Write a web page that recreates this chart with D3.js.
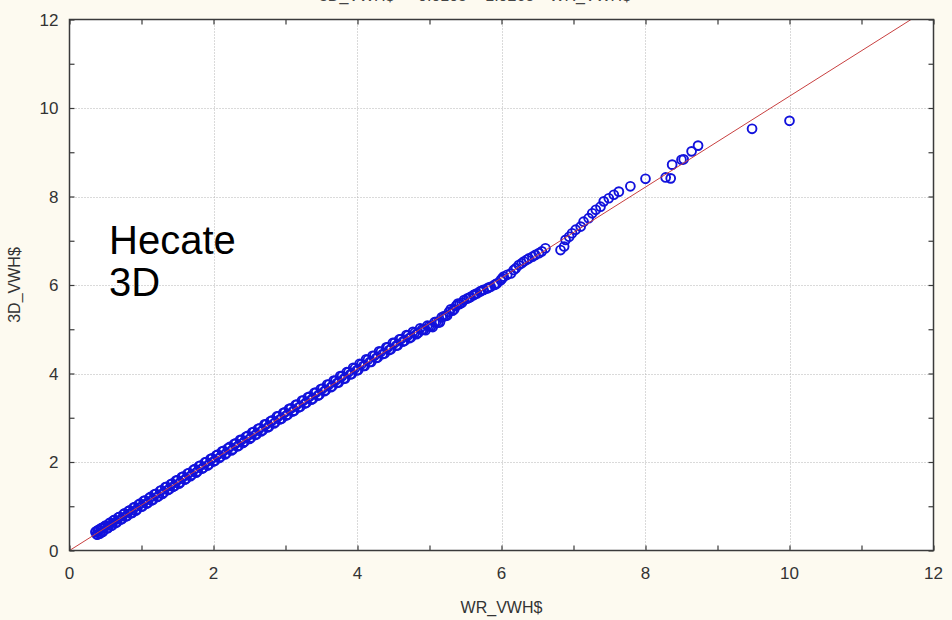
<!DOCTYPE html>
<html>
<head>
<meta charset="utf-8">
<script src="https://cdn.jsdelivr.net/npm/d3@7"></script>
<style>
  body { margin: 0; background: #fdfaf0; }
  svg { display: block; }
  text { font-family: "Liberation Sans", Arial, sans-serif; }
</style>
</head>
<body>
<div id="chart"></div>
<script>
const width = 952;
const height = 620;
const margin = { top: 19.5, right: 18.5, bottom: 69.5, left: 69.5 };

// tick values for both axes
const majorTicks = [0, 2, 4, 6, 8, 10, 12];
const minorTicks = [1, 3, 5, 7, 9, 11];

// WR_VWH$ (x) against 3D_VWH$ (y)
const wrVWH = [
  0.36, 0.38, 0.40, 0.42, 0.44, 0.46, 0.49, 0.52, 0.55, 0.58, 0.61, 0.64, 0.68, 0.71, 0.75, 0.78,
  0.82, 0.85, 0.89, 0.92, 0.96, 1.00, 1.03, 1.07, 1.11, 1.14, 1.18, 1.22, 1.26, 1.29, 1.33, 1.37,
  1.41, 1.44, 1.48, 1.52, 1.56, 1.60, 1.64, 1.68, 1.72, 1.76, 1.80, 1.84, 1.88, 1.92, 1.96, 2.00,
  2.04, 2.08, 2.12, 2.16, 2.20, 2.25, 2.29, 2.33, 2.37, 2.41, 2.45, 2.50, 2.54, 2.58, 2.62, 2.66,
  2.71, 2.75, 2.79, 2.84, 2.88, 2.92, 2.97, 3.01, 3.05, 3.10, 3.14, 3.18, 3.23, 3.27, 3.31, 3.36,
  3.40, 3.45, 3.49, 3.54, 3.58, 3.63, 3.67, 3.72, 3.76, 3.81, 3.85, 3.90, 3.94, 3.99, 4.03, 4.08,
  4.12, 4.17, 4.21, 4.26, 4.30, 4.35, 4.40, 4.44, 4.49, 4.54, 4.58, 4.63, 4.68, 4.72, 4.77, 4.82,
  4.87, 4.92, 4.97, 5.02, 5.07, 5.12, 5.17, 5.22, 5.27, 5.32, 5.37, 5.42, 5.48, 5.52, 5.57, 5.61,
  5.66, 5.70, 5.75, 5.80, 5.85, 5.90, 5.94, 5.99, 6.03, 6.13, 6.17, 6.24, 6.31, 6.38, 6.47, 6.52,
  6.61, 6.82, 6.87, 6.89, 6.94, 6.98, 7.03, 7.10, 7.14, 7.21, 7.26, 7.31, 7.375, 7.42, 7.49, 7.56,
  7.63, 7.79, 8.00, 8.28, 8.35, 8.37, 8.50, 8.53, 8.64, 8.73, 9.48, 10.00,
  0.37, 0.39, 0.41, 0.43, 0.45, 0.47, 0.50, 0.535, 0.565, 0.595, 0.625, 0.66, 0.695, 0.73, 0.765, 0.80,
  0.835, 0.87, 0.905, 0.94, 0.98, 1.015, 1.05, 1.09, 1.125, 1.16, 1.20, 1.24, 1.275, 1.31, 1.35, 1.39,
  1.425, 1.46, 1.50, 1.54, 1.58, 1.62, 1.66, 1.70, 1.74, 1.78, 1.82, 1.86, 1.90, 1.94, 1.98, 2.02,
  2.06, 2.10, 2.14, 2.18, 2.225, 2.27, 2.31, 2.35, 2.39, 2.43, 2.475, 2.52, 2.56, 2.60, 2.64, 2.685,
  2.73, 2.77, 2.815, 2.86, 2.90, 2.945, 2.99, 3.03, 3.075, 3.12, 3.16, 3.205, 3.25, 3.29, 3.335, 3.38,
  3.425, 3.47, 3.515, 3.56, 3.605, 3.65, 3.695, 3.74, 3.785, 3.83, 3.875, 3.92, 3.965, 4.01, 4.055, 4.10,
  4.145, 4.19, 4.235, 4.28, 4.325, 4.375, 4.42, 4.465, 4.515, 4.56, 4.605, 4.655, 4.70, 4.745, 4.795, 4.845,
  4.895, 4.945, 4.995, 5.045, 5.095, 5.145, 5.195, 5.245, 5.295, 5.345, 5.395, 5.45,
  5.55, 5.63, 5.72, 5.82, 5.92, 6.01, 6.08, 6.20, 6.28, 6.35, 6.43, 6.56
];
const d3VWH = [
  0.42, 0.36, 0.46, 0.38, 0.50, 0.42, 0.55, 0.50, 0.61, 0.56, 0.68, 0.62, 0.75, 0.70, 0.82, 0.77,
  0.89, 0.84, 0.97, 0.90, 1.04, 0.99, 1.12, 1.06, 1.19, 1.13, 1.27, 1.21, 1.35, 1.28, 1.43, 1.37,
  1.50, 1.44, 1.58, 1.51, 1.66, 1.60, 1.74, 1.68, 1.82, 1.76, 1.91, 1.85, 1.99, 1.92, 2.07, 2.01,
  2.15, 2.09, 2.24, 2.17, 2.31, 2.26, 2.41, 2.35, 2.50, 2.43, 2.57, 2.52, 2.67, 2.61, 2.75, 2.69,
  2.85, 2.78, 2.92, 2.87, 3.03, 2.96, 3.11, 3.05, 3.20, 3.14, 3.29, 3.23, 3.39, 3.32, 3.46, 3.41,
  3.56, 3.50, 3.65, 3.60, 3.75, 3.69, 3.84, 3.79, 3.94, 3.88, 4.03, 3.98, 4.13, 4.07, 4.22, 4.17,
  4.32, 4.26, 4.40, 4.35, 4.50, 4.44, 4.59, 4.53, 4.69, 4.63, 4.77, 4.72, 4.87, 4.80, 4.94, 4.89,
  5.02, 4.99, 5.08, 5.06, 5.16, 5.15, 5.27, 5.30, 5.39, 5.42, 5.53, 5.57, 5.66, 5.69, 5.73, 5.77,
  5.81, 5.85, 5.89, 5.92, 5.96, 6.00, 6.04, 6.11, 6.19, 6.26, 6.34, 6.45, 6.53, 6.60, 6.68, 6.72,
  6.83, 6.79, 6.87, 7.02, 7.09, 7.17, 7.25, 7.32, 7.43, 7.51, 7.62, 7.70, 7.77, 7.89, 7.96, 8.04,
  8.11, 8.23, 8.40, 8.43, 8.41, 8.72, 8.83, 8.84, 9.02, 9.15, 9.53, 9.71,
  0.43, 0.36, 0.47, 0.40, 0.51, 0.44, 0.56, 0.51, 0.63, 0.57, 0.69, 0.64, 0.76, 0.71, 0.84, 0.78,
  0.91, 0.85, 0.98, 0.93, 1.06, 1.00, 1.13, 1.08, 1.21, 1.15, 1.28, 1.23, 1.36, 1.31, 1.44, 1.39,
  1.51, 1.46, 1.59, 1.54, 1.67, 1.62, 1.75, 1.71, 1.84, 1.79, 1.92, 1.87, 2.00, 1.95, 2.08, 2.03,
  2.17, 2.12, 2.25, 2.20, 2.34, 2.29, 2.42, 2.37, 2.50, 2.46, 2.59, 2.55, 2.68, 2.63, 2.76, 2.72,
  2.85, 2.80, 2.94, 2.90, 3.03, 2.98, 3.12, 3.07, 3.21, 3.16, 3.30, 3.25, 3.39, 3.34, 3.48, 3.43,
  3.57, 3.52, 3.66, 3.62, 3.75, 3.71, 3.84, 3.80, 3.94, 3.89, 4.03, 3.99, 4.12, 4.08, 4.21, 4.17,
  4.31, 4.26, 4.40, 4.36, 4.49, 4.45, 4.59, 4.55, 4.69, 4.64, 4.78, 4.74, 4.86, 4.82, 4.92, 4.92,
  4.99, 4.98, 5.07, 5.05, 5.17, 5.16, 5.29, 5.31, 5.45, 5.45, 5.58, 5.60,
  5.71, 5.79, 5.87, 5.94, 6.02, 6.15, 6.23, 6.38, 6.49, 6.57, 6.64, 6.76
];

// fitted line end points
const fitX = [0, 12];
const fitY = [0, 12.32];

const points = wrVWH.map((x, i) => ({ x: x, y: d3VWH[i] }));

const innerWidth = width - margin.left - margin.right;
const innerHeight = height - margin.top - margin.bottom;

const x = d3.scaleLinear().domain([0, 12]).range([margin.left, margin.left + innerWidth]);
const y = d3.scaleLinear().domain([0, 12]).range([margin.top + innerHeight, margin.top]);

const svg = d3.select('#chart')
  .append('svg')
  .attr('width', width)
  .attr('height', height);

// title, mostly cut off by the top edge
svg.append('text')
  .attr('x', 475)
  .attr('y', 1)
  .attr('text-anchor', 'middle')
  .attr('font-size', 16)
  .attr('fill', '#444')
  .text('3D_VWH$ = -0.0105 + 1.0268 * WR_VWH$');

// plot area
svg.append('rect')
  .attr('x', margin.left)
  .attr('y', margin.top)
  .attr('width', innerWidth)
  .attr('height', innerHeight)
  .attr('fill', '#fff');

svg.append('clipPath')
  .attr('id', 'clip')
  .append('rect')
  .attr('x', margin.left)
  .attr('y', margin.top)
  .attr('width', innerWidth)
  .attr('height', innerHeight);

// dotted grid at the major ticks
const grid = svg.append('g')
  .attr('stroke', '#b4b4b4')
  .attr('stroke-dasharray', '1,2');

grid.selectAll('line.gx')
  .data(majorTicks.slice(1, -1))
  .join('line')
  .attr('class', 'gx')
  .attr('x1', d => Math.round(x(d)) + 0.5)
  .attr('x2', d => Math.round(x(d)) + 0.5)
  .attr('y1', margin.top)
  .attr('y2', margin.top + innerHeight);

grid.selectAll('line.gy')
  .data(majorTicks.slice(1, -1))
  .join('line')
  .attr('class', 'gy')
  .attr('y1', d => Math.round(y(d)) + 0.5)
  .attr('y2', d => Math.round(y(d)) + 0.5)
  .attr('x1', margin.left)
  .attr('x2', margin.left + innerWidth);

// points
svg.append('g')
  .attr('clip-path', 'url(#clip)')
  .selectAll('circle')
  .data(points)
  .join('circle')
  .attr('cx', d => x(d.x))
  .attr('cy', d => y(d.y))
  .attr('r', 4.4)
  .attr('fill', 'none')
  .attr('stroke', '#1212dc')
  .attr('stroke-width', 1.9);

// fitted line
const fit = fitX.map((v, i) => [v, fitY[i]]);
svg.append('path')
  .attr('clip-path', 'url(#clip)')
  .attr('d', d3.line().x(d => x(d[0])).y(d => y(d[1]))(fit))
  .attr('fill', 'none')
  .attr('stroke', '#c84040')
  .attr('stroke-width', 1);

// axes: ticks on all four sides, pointing inward
const allTicks = majorTicks.concat(minorTicks);
const tickLen = 5;
const axisColor = '#3a3a3a';

svg.append('g')
  .call(d3.axisBottom(x).tickValues(allTicks).tickSize(-tickLen).tickFormat(''))
  .attr('transform', `translate(0,${margin.top + innerHeight})`);
svg.append('g')
  .call(d3.axisTop(x).tickValues(allTicks).tickSize(-tickLen).tickFormat(''))
  .attr('transform', `translate(0,${margin.top})`);
svg.append('g')
  .call(d3.axisLeft(y).tickValues(allTicks).tickSize(-tickLen).tickFormat(''))
  .attr('transform', `translate(${margin.left},0)`);
svg.append('g')
  .call(d3.axisRight(y).tickValues(allTicks).tickSize(-tickLen).tickFormat(''))
  .attr('transform', `translate(${margin.left + innerWidth},0)`);

svg.selectAll('.domain').remove();
svg.selectAll('.tick line').attr('stroke', axisColor).attr('stroke-width', 1.2);

// frame
svg.append('rect')
  .attr('x', margin.left)
  .attr('y', margin.top)
  .attr('width', innerWidth)
  .attr('height', innerHeight)
  .attr('fill', 'none')
  .attr('stroke', axisColor)
  .attr('stroke-width', 1.5);

// tick labels
svg.append('g')
  .selectAll('text')
  .data(majorTicks)
  .join('text')
  .attr('x', d => x(d))
  .attr('y', margin.top + innerHeight + 28)
  .attr('text-anchor', 'middle')
  .attr('font-size', 17)
  .attr('fill', '#333')
  .text(d => d);

svg.append('g')
  .selectAll('text')
  .data(majorTicks)
  .join('text')
  .attr('x', margin.left - 11)
  .attr('y', d => y(d) + 6)
  .attr('text-anchor', 'end')
  .attr('font-size', 17)
  .attr('fill', '#333')
  .text(d => d);

// axis titles
svg.append('text')
  .attr('x', margin.left + innerWidth / 2)
  .attr('y', 613)
  .attr('text-anchor', 'middle')
  .attr('font-size', 16)
  .attr('fill', '#333')
  .text('WR_VWH$');

svg.append('text')
  .attr('transform', `translate(20,${margin.top + innerHeight / 2}) rotate(-90)`)
  .attr('text-anchor', 'middle')
  .attr('font-size', 16)
  .attr('fill', '#333')
  .text('3D_VWH$');

// annotation
const note = svg.append('text')
  .attr('font-size', 40)
  .attr('fill', '#000');
note.append('tspan').attr('x', 109).attr('y', 254).text('Hecate');
note.append('tspan').attr('x', 109).attr('y', 296).text('3D');
</script>
</body>
</html>
